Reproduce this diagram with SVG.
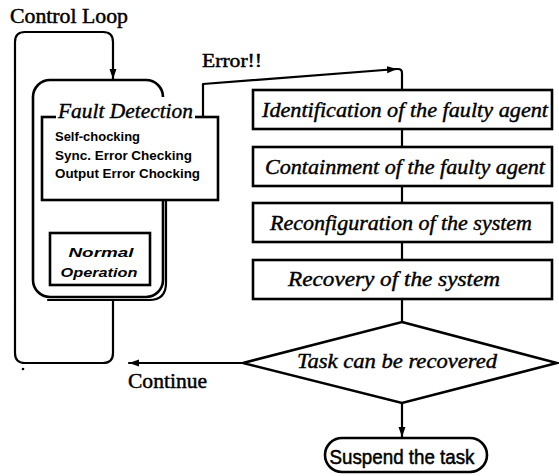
<svg xmlns="http://www.w3.org/2000/svg" width="559" height="476" viewBox="0 0 559 476">
<style>
.ln{fill:none;stroke:#000;stroke-width:2.2;stroke-linejoin:round;stroke-linecap:round}
.bx{fill:#fff;stroke:#000;stroke-width:2.6}
.ser{font-family:"Liberation Serif","Times New Roman",serif;fill:#000;stroke:#000;stroke-width:0.45}
.it{font-family:"Liberation Serif","Times New Roman",serif;font-style:italic;fill:#000;stroke:#000;stroke-width:0.4}
.sb{font-family:"Liberation Sans",Arial,sans-serif;font-weight:bold;fill:#000}
.sans{font-family:"Liberation Sans",Arial,sans-serif;fill:#000;stroke:#000;stroke-width:0.5}
</style>
<defs>
<marker id="ah" viewBox="0 0 10 8" refX="10" refY="4" markerWidth="10" markerHeight="8" markerUnits="userSpaceOnUse" orient="auto">
<path d="M0,0.5 L10,4 L0,7.5 z" fill="#000"/>
</marker>
</defs>
<rect width="559" height="476" fill="#fff"/>

<g id="connectors">
<path class="ln" d="M113,300 L113,353 Q113,363 103,363 L25,363 Q15,363 15,353 L15,42 Q15,32 25,32 L103,32 Q113,32 113,42 L113,79" marker-end="url(#ah)"/>
<path class="ln" d="M203,117 L203,84 L397,69" marker-end="url(#ah)"/>
<path class="ln" d="M395,69 L398,69 Q402,69 402,73 L402,90"/>
<path class="ln" d="M402,129 L402,147 M402,186 L402,203 M402,242 L402,260 M402,299 L402,322"/>
<path class="ln" d="M402,403 L402,437" marker-end="url(#ah)"/>
<path class="ln" d="M243,363 L129,363" marker-end="url(#ah)"/>
</g>

<g id="control-loop-label">
<text class="ser" x="10" y="23" font-size="20" textLength="118" lengthAdjust="spacingAndGlyphs">Control Loop</text>
</g>

<g id="error-label">
<text class="ser" x="202" y="67" font-size="18" textLength="60" lengthAdjust="spacingAndGlyphs">Error!!</text>
</g>

<g id="continue-label">
<text class="ser" x="128" y="388" font-size="21" textLength="79" lengthAdjust="spacingAndGlyphs">Continue</text>
</g>

<circle cx="23" cy="369" r="1.3" fill="#000"/>

<g id="agent-container">
<path class="ln" d="M166,201 L166,283 Q166,300 149,300 L48,300"/>
<rect class="bx" x="33" y="80" width="130" height="217" rx="17" stroke-width="2.2"/>
</g>

<g id="fault-detection">
<rect class="bx" x="42" y="117" width="176" height="83"/>
<rect x="56" y="97" width="139" height="22" fill="#fff"/>
<text class="it" x="58" y="118" font-size="21" textLength="135" lengthAdjust="spacingAndGlyphs">Fault Detection</text>
<text class="sb" x="55" y="141" font-size="12" textLength="85" lengthAdjust="spacingAndGlyphs">Self-chocking</text>
<text class="sb" x="55" y="160" font-size="12" textLength="137" lengthAdjust="spacingAndGlyphs">Sync. Error Checking</text>
<text class="sb" x="55" y="178" font-size="12" textLength="145" lengthAdjust="spacingAndGlyphs">Output Error Chocking</text>
</g>

<g id="normal-operation">
<rect class="bx" x="50" y="233" width="100" height="52"/>
<text class="sb" x="101" y="257" font-size="13" font-style="italic" text-anchor="middle" textLength="65" lengthAdjust="spacingAndGlyphs">Normal</text>
<text class="sb" x="99" y="277" font-size="13" font-style="italic" text-anchor="middle" textLength="77" lengthAdjust="spacingAndGlyphs">Operation</text>
</g>

<g id="identification">
<rect class="bx" x="253" y="90" width="299" height="39"/>
<text class="it" x="405" y="117" font-size="20" text-anchor="middle" textLength="286" lengthAdjust="spacingAndGlyphs">Identification of the faulty agent</text>
</g>

<g id="containment">
<rect class="bx" x="253" y="147" width="299" height="39"/>
<text class="it" x="405" y="174" font-size="20" text-anchor="middle" textLength="280" lengthAdjust="spacingAndGlyphs">Containment of the faulty agent</text>
</g>

<g id="reconfiguration">
<rect class="bx" x="253" y="203" width="299" height="39"/>
<text class="it" x="401" y="230" font-size="20" text-anchor="middle" textLength="262" lengthAdjust="spacingAndGlyphs">Reconfiguration of the system</text>
</g>

<g id="recovery">
<rect class="bx" x="253" y="260" width="299" height="39"/>
<text class="it" x="394" y="286" font-size="20" text-anchor="middle" textLength="212" lengthAdjust="spacingAndGlyphs">Recovery of the system</text>
</g>

<g id="decision">
<polygon class="bx" points="402,322 557,363 402,403 243,363"/>
<text class="it" x="397" y="368" font-size="20" text-anchor="middle" textLength="200" lengthAdjust="spacingAndGlyphs">Task can be recovered</text>
</g>

<g id="suspend">
<rect class="bx" x="325" y="438" width="162" height="34" rx="17" stroke-width="2.2"/>
<text class="sans" x="402" y="464" font-size="20" text-anchor="middle" textLength="145" lengthAdjust="spacingAndGlyphs">Suspend the task</text>
</g>
</svg>
